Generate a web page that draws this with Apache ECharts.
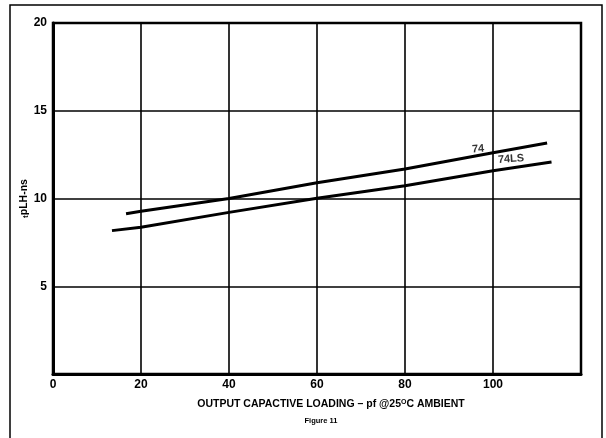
<!DOCTYPE html>
<html>
<head>
<meta charset="utf-8">
<script src="https://cdn.jsdelivr.net/npm/echarts@6/dist/echarts.min.js"></script>
<style>html,body{margin:0;padding:0;background:#fff}#c{width:606px;height:438px}</style>
</head>
<body>
<div id="c"></div>
<script>
const x74 = [16.6, 20, 40, 60, 80, 100, 112.3];
const y74 = [9.13, 9.27, 10.0, 10.9, 11.68, 12.61, 13.16];
const x74LS = [13.4, 20, 40, 60, 80, 100, 113.3];
const y74LS = [8.17, 8.36, 9.21, 10.01, 10.73, 11.58, 12.08];
const seriesLabels = ['74', '74LS'];
const labelX = [96.6, 104.1];
const labelY = [12.82, 12.25];
const xTicks = [0, 20, 40, 60, 80, 100];
const yTicks = [5, 10, 15, 20];

const F = '"Liberation Sans", Arial, sans-serif';
const chart = echarts.init(document.getElementById('c'));
chart.setOption({
  backgroundColor: '#fff',
  animation: false,
  grid: { left: 53, top: 23, right: 25, bottom: 64, show: true, borderColor: '#000', borderWidth: 2.5 },
  xAxis: {
    type: 'value', min: 0, max: 120, interval: 20,
    axisLine: { show: true, lineStyle: { color: '#000', width: 3 } },
    axisTick: { show: false },
    splitLine: { show: true, lineStyle: { color: '#000', width: 1.6 } },
    axisLabel: {
      margin: 5, color: '#000', fontFamily: F, fontWeight: 'bold', fontSize: 12,
      formatter: v => xTicks.indexOf(v) >= 0 ? String(v) : ''
    }
  },
  yAxis: {
    type: 'value', min: 0, max: 20, interval: 5,
    name: '{s|t}{n|pLH-ns}', nameLocation: 'middle', nameGap: 23, nameRotate: 90,
    nameMoveOverlap: false,
    nameTextStyle: {
      rich: {
        s: { fontFamily: F, fontWeight: 'bold', fontSize: 8, color: '#000', verticalAlign: 'bottom' },
        n: { fontFamily: F, fontWeight: 'bold', fontSize: 10.5, color: '#000' }
      }
    },
    axisLine: { show: true, lineStyle: { color: '#000', width: 3 } },
    axisTick: { show: false },
    splitLine: { show: true, lineStyle: { color: '#000', width: 1.6 } },
    axisLabel: {
      margin: 6, color: '#000', fontFamily: F, fontWeight: 'bold', fontSize: 12,
      formatter: v => yTicks.indexOf(v) >= 0 ? String(v) : ''
    }
  },
  title: [
    {
      text: '{a|OUTPUT CAPACTIVE LOADING – pf @25}{u|O}{a|C AMBIENT}',
      left: 326, top: 394, textAlign: 'center',
      textStyle: {
        rich: {
          a: { fontFamily: F, fontWeight: 'bold', fontSize: 10.5, color: '#000' },
          u: { fontFamily: F, fontWeight: 'bold', fontSize: 7, color: '#000', verticalAlign: 'top', padding: [0, 0, 4, 0] }
        }
      }
    },
    {
      text: 'Figure 11', left: 316, top: 412, textAlign: 'center',
      textStyle: { fontFamily: F, fontWeight: 'bold', fontSize: 7.5, color: '#000' }
    }
  ],
  graphic: [
    { type: 'rect', shape: { x: 10, y: 5, width: 592, height: 460 }, style: { fill: 'none', stroke: '#000', lineWidth: 1.5 }, silent: true }
  ],
  series: [
    {
      name: '74', type: 'line', data: x74.map((x, i) => [x, y74[i]]),
      showSymbol: false, symbol: 'none', lineStyle: { color: '#000', width: 3 }
    },
    {
      name: '74LS', type: 'line', data: x74LS.map((x, i) => [x, y74LS[i]]),
      showSymbol: false, symbol: 'none', lineStyle: { color: '#000', width: 3 }
    },
    {
      name: 'labels', type: 'scatter', symbolSize: 0,
      data: seriesLabels.map((t, i) => ({ value: [labelX[i], labelY[i]], name: t })),
      label: {
        show: true, position: 'inside', formatter: p => p.name, rotate: 4,
        fontFamily: F, fontWeight: 'bold', fontSize: 11, color: '#000'
      }
    }
  ]
});
</script>
</body>
</html>
